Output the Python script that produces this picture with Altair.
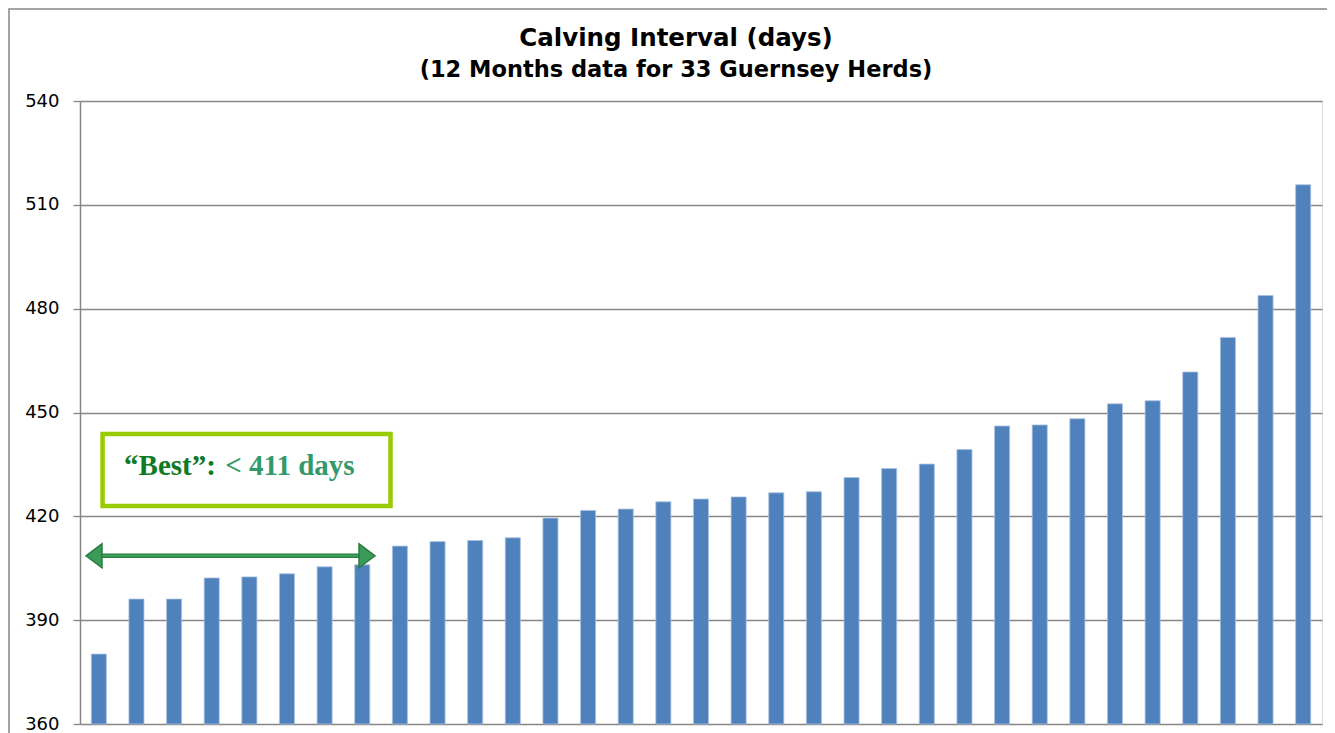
import altair as alt
import pandas as pd

# ---- data ----
herds = [f"Herd {i}" for i in range(1, 34)]
calving_interval = [380.2, 396.1, 396.1, 402.2, 402.5, 403.4, 405.4, 406.0,
                    411.4, 412.7, 413.0, 413.8, 419.5, 421.7, 422.1, 424.2,
                    425.0, 425.6, 426.8, 427.1, 431.2, 433.8, 435.1, 439.3,
                    446.1, 446.4, 448.2, 452.5, 453.4, 461.7, 471.7, 483.8,
                    515.8]
y_ticks = [360, 390, 420, 450, 480, 510, 540]

title_text = "Calving Interval (days)"
subtitle_text = "(12 Months  data for 33 Guernsey Herds)"
best_word = "\u201cBest\u201d:"
best_rest = "< 411 days"

# ---- annotation placement (in herd-slot / days units) ----
box_pos = {"x": [0.60], "x2": [8.25], "y": [443.8], "y2": [423.0]}
text1_pos = {"x": [1.17], "y": [431.9], "t": [best_word]}
text2_pos = {"x": [3.86], "y": [431.9], "t": [best_rest]}
arrow_line = {"x": [0.45], "x2": [7.55], "y": [408.6]}
arrow_left = {"x": [0.372], "y": [408.6]}
arrow_right = {"x": [7.626], "y": [408.6]}

df = pd.DataFrame({"herd": herds, "ci": calving_interval})

W, H = 1242, 623
GRID = "#868686"

ys = alt.Scale(domain=[360, 540], nice=False, zero=False)
xq = alt.Scale(domain=[0, 33], nice=False, zero=False)

y_axis = alt.Axis(values=y_ticks, title=None, grid=True,
                  gridColor=GRID, gridWidth=1.3,
                  domainColor=GRID, domainWidth=1.5,
                  tickColor=GRID, tickSize=7, tickWidth=1.3,
                  labelFont="DejaVu Sans", labelFontSize=18,
                  labelColor="black", labelPadding=14)

bars = alt.Chart(df).mark_bar(color="#4F81BD", stroke="#A9C1E0",
                              strokeWidth=0.8).encode(
    x=alt.X("herd:N", sort=herds, axis=None,
            scale=alt.Scale(paddingInner=0.6, paddingOuter=0.3)),
    y=alt.Y("ci:Q", scale=ys, axis=y_axis),
    y2=alt.datum(360),
)

def qx(field):
    return alt.X(f"{field}:Q", scale=xq, axis=None)

def qy(field):
    return alt.Y(f"{field}:Q", scale=ys, axis=y_axis)

box = alt.Chart(pd.DataFrame(box_pos)).mark_rect(
    fillOpacity=0, stroke="#99CC00", strokeWidth=4.5
).encode(x=qx("x"), x2="x2:Q", y=qy("y"), y2="y2:Q")

txt1 = alt.Chart(pd.DataFrame(text1_pos)).mark_text(
    align="left", baseline="alphabetic", font="Liberation Serif",
    fontWeight="bold", fontSize=29, color="#0E7A22"
).encode(x=qx("x"), y=qy("y"), text="t:N")

txt2 = alt.Chart(pd.DataFrame(text2_pos)).mark_text(
    align="left", baseline="alphabetic", font="Liberation Serif",
    fontWeight="bold", fontSize=29, color="#33996B"
).encode(x=qx("x"), y=qy("y"), text="t:N")

line_outer = alt.Chart(pd.DataFrame(arrow_line)).mark_rule(
    strokeWidth=4.5, color="#2B7D3E"
).encode(x=qx("x"), x2="x2:Q", y=qy("y"))
line_inner = alt.Chart(pd.DataFrame(arrow_line)).mark_rule(
    strokeWidth=2, color="#3DA562"
).encode(x=qx("x"), x2="x2:Q", y=qy("y"))

head_l = alt.Chart(pd.DataFrame(arrow_left)).mark_point(
    shape="M-0.667,0L0.667,-1L0.667,1Z", size=576, filled=True,
    fill="#3A9A5A", stroke="#2B7D3E", strokeWidth=1.5, opacity=1
).encode(x=qx("x"), y=qy("y"))
head_r = alt.Chart(pd.DataFrame(arrow_right)).mark_point(
    shape="M0.667,0L-0.667,-1L-0.667,1Z", size=576, filled=True,
    fill="#3A9A5A", stroke="#2B7D3E", strokeWidth=1.5, opacity=1
).encode(x=qx("x"), y=qy("y"))

frame = alt.Chart(pd.DataFrame({"a": [0]})).mark_rect(
    fillOpacity=0, stroke=GRID, strokeWidth=1.5
).encode(x=alt.value(-71), x2=alt.value(1400),
         y=alt.value(-92), y2=alt.value(900))

title_df = pd.DataFrame({"t": [title_text]})
sub_df = pd.DataFrame({"t": [subtitle_text]})
title_mark = alt.Chart(title_df).mark_text(
    align="center", baseline="alphabetic", font="DejaVu Sans",
    fontSize=24.5, fontWeight="bold", color="black"
).encode(x=alt.value(596), y=alt.value(-55), text="t:N")
sub_mark = alt.Chart(sub_df).mark_text(
    align="center", baseline="alphabetic", font="DejaVu Sans",
    fontSize=22.5, fontWeight="bold", color="black"
).encode(x=alt.value(596), y=alt.value(-24), text="t:N")

chart = alt.layer(
    frame, bars, box, txt1, txt2, line_outer, line_inner, head_l, head_r,
    title_mark, sub_mark
).resolve_scale(x="independent").properties(
    width=W, height=H,
    autosize=alt.AutoSizeParams(type="none"),
    padding={"left": 72, "top": 93, "right": 5, "bottom": 9},
).configure_view(strokeOpacity=0).configure(background="white")

chart.save("out.html", embed_options={"renderer": "svg", "actions": False})
